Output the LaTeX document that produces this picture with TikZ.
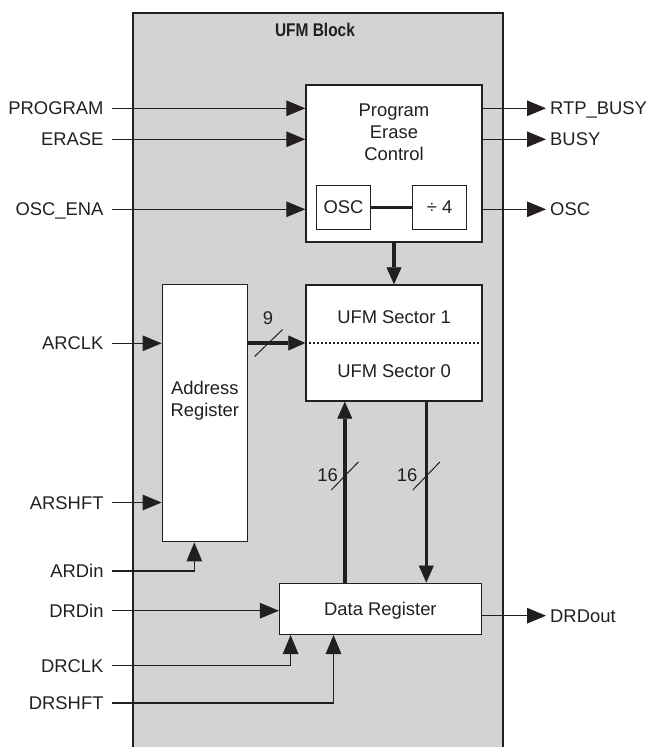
\documentclass[tikz,border=0pt]{standalone}
\usepackage{fontspec}
\setmainfont{Liberation Sans}
\usepackage{graphicx}
\usetikzlibrary{arrows.meta}
\definecolor{ufmgray}{RGB}{209,211,212}
\definecolor{ink}{RGB}{35,31,32}

\begin{document}
\begin{tikzpicture}[x=1pt, y=-1pt,
    every node/.style={font=\fontsize{18.4}{22}\selectfont, text=ink},
    blk/.style={draw=ink, fill=white, line width=1.4pt, inner sep=0pt},
    lbl/.style={text height=13.2pt, text depth=0pt},
    inlbl/.style={lbl, anchor=east, inner sep=8pt},
    outlbl/.style={lbl, anchor=west, inner sep=4pt},
    sig/.style={draw=ink, line width=1.3pt, -{Triangle[length=19pt, width=15.5pt]}},
    bus/.style={draw=ink, line width=3.6pt, -{Triangle[length=17pt, width=15pt, line width=0.5pt]}},
    slash/.style={draw=ink, line width=1pt}]
    \useasboundingbox (0,0) rectangle (649,747);

    \fill[ufmgray] (133,13) rectangle (503,747);
    \draw[ink, line width=1.4pt] (133,747) -- (133,13) -- (503,13) -- (503,747);
    \node (ttl) at (315,30) {\scalebox{0.84}[1]{\bfseries UFM Block}};

    \node[blk, minimum width=176pt, minimum height=157pt] (pec) at (394,163.4) {};
    \node[align=center] (pectxt) at (394,132) {Program\\Erase\\Control};
    \node[blk, lbl, minimum width=54pt, minimum height=44pt] (osc) at (343.5,207.2) {OSC};
    \node[blk, lbl, minimum width=54pt, minimum height=44pt] (div4) at (439.6,207.2) {÷ 4};
    \draw[ink, line width=3pt] (osc) -- (div4);

    \node[blk, minimum width=176pt, minimum height=116pt] (sect) at (394,343) {};
    \node[lbl] (sect1) at (394,317) {UFM Sector 1};
    \node[lbl] (sect0) at (394,371) {UFM Sector 0};
    \draw[ink, line width=1.2pt, dash pattern=on 1.5pt off 2.5pt]
        ([xshift=4pt]sect.west) -- ([xshift=-4pt]sect.east);

    \node[blk, minimum width=85pt, minimum height=257.4pt] (addr) at (204.8,413) {};
    \node[align=center] (addrtxt) at (204.8,401) {Address\\Register};

    \node[blk, lbl, minimum width=201.6pt, minimum height=51pt] (dreg) at (380.4,608.8) {Data Register};

    \node[inlbl] (iprog) at (111.7,108.3) {PROGRAM};
    \node[inlbl] (ierase) at (111.7,139.3) {ERASE};
    \node[inlbl] (ioscena) at (111.7,209.3) {OSC\_ENA};
    \node[inlbl] (iarclk) at (111.7,343.3) {ARCLK};
    \node[inlbl] (iarshft) at (111.7,502.5) {ARSHFT};
    \node[inlbl] (iardin) at (111.7,571) {ARDin};
    \node[inlbl] (idrdin) at (111.7,610.7) {DRDin};
    \node[inlbl] (idrclk) at (111.7,665.7) {DRCLK};
    \node[inlbl] (idrshft) at (111.7,703) {DRSHFT};

    \node[outlbl] (ortp) at (546,108.3) {RTP\_BUSY};
    \node[outlbl] (obusy) at (546,139.3) {BUSY};
    \node[outlbl] (oosc) at (546,209.3) {OSC};
    \node[outlbl] (odrdout) at (546,615.7) {DRDout};

    \draw[sig] (iprog.east) -- (iprog.east -| pec.west);
    \draw[sig] (ierase.east) -- (ierase.east -| pec.west);
    \draw[sig] (ioscena.east) -- (ioscena.east -| pec.west);
    \draw[sig] (iarclk.east) -- (iarclk.east -| addr.west);
    \draw[sig] (iarshft.east) -- (iarshft.east -| addr.west);
    \draw[sig] (iardin.east) -| ([xshift=-10.5pt]addr.south);
    \draw[sig] (idrdin.east) -- (idrdin.east -| dreg.west);
    \draw[sig] (idrclk.east) -| ([xshift=11.7pt]dreg.south west);
    \draw[sig] (idrshft.east) -| ([xshift=54.6pt]dreg.south west);

    \draw[sig] (ortp.west -| pec.east) -- (ortp.west);
    \draw[sig] (obusy.west -| pec.east) -- (obusy.west);
    \draw[sig] (oosc.west -| pec.east) -- (oosc.west);
    \draw[sig] (odrdout.west -| dreg.east) -- (odrdout.west);

    \draw[bus] (pec.south) -- (sect.north);
    \draw[bus] (addr.east |- sect.west) -- (sect.west);
    \draw[bus] ([xshift=-49.2pt]sect.south |- dreg.north) -- ([xshift=-49.2pt]sect.south);
    \draw[bus] ([xshift=32.3pt]sect.south) -- ([xshift=32.3pt]sect.south |- dreg.north);

    \coordinate (sl9) at (268.6,343);
    \coordinate (sl16a) at (344.8,476);
    \coordinate (sl16b) at (426.3,476);
    \draw[slash] ([shift={(-14,13.5)}]sl9) -- ([shift={(14,-13.5)}]sl9);
    \draw[slash] ([shift={(-13.5,14)}]sl16a) -- ([shift={(13.5,-14)}]sl16a);
    \draw[slash] ([shift={(-13.5,14)}]sl16b) -- ([shift={(13.5,-14)}]sl16b);
    \node[lbl] (w9) at (268,318) {9};
    \node[lbl] (w16a) at (327.5,475) {16};
    \node[lbl] (w16b) at (407,475) {16};
\end{tikzpicture}
\end{document}
